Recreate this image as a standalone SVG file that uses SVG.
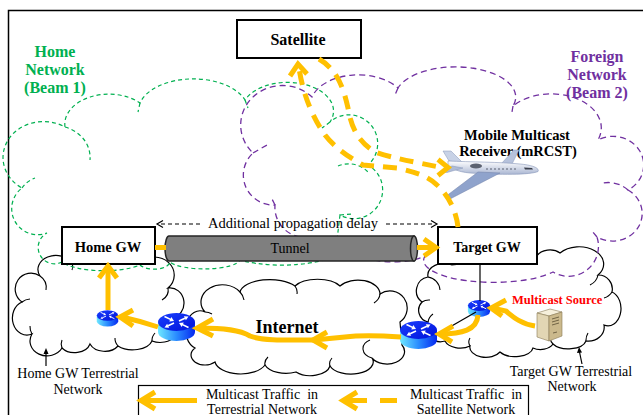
<svg xmlns="http://www.w3.org/2000/svg" xmlns:xlink="http://www.w3.org/1999/xlink" width="643" height="415" viewBox="0 0 643 415" font-family="'Liberation Serif', 'DejaVu Serif', serif">
  <style>
    text { font-family: "Liberation Serif", "DejaVu Serif", serif; }
    .t { fill: #000; }
    .b { font-weight: bold; }
    .mid { text-anchor: middle; }
    .pre { white-space: pre; }
    .cloud { fill: #fff; stroke: #000; stroke-width: 1.2; }
    .curl { fill: none; stroke: #000; stroke-width: 1.1; }
    .beam1 { fill: none; stroke: #00b050; stroke-width: 1.2; stroke-dasharray: 4 3; }
    .beam2 { fill: none; stroke: #7030a0; stroke-width: 1.3; stroke-dasharray: 6 4; }
    .box { fill: #fff; stroke: #000; stroke-width: 2; }
    .flow { fill: none; stroke: #ffc000; stroke-width: 5; stroke-linecap: butt; stroke-linejoin: miter; }
    .sat { fill: none; stroke: #ffc000; stroke-width: 5; stroke-dasharray: 14 9; }
    .head { fill: none; stroke: #ffc000; stroke-width: 5; stroke-linejoin: miter; stroke-miterlimit: 6; }
    .link { fill: none; stroke: #000; stroke-width: 1.2; }
    .delay { fill: none; stroke: #000; stroke-width: 1.2; stroke-dasharray: 4 3; }
  </style>
  <defs>
    <linearGradient id="rSide" x1="0" y1="0" x2="1" y2="0">
      <stop offset="0" stop-color="#6ee8ff"/>
      <stop offset="0.5" stop-color="#2a8cff"/>
      <stop offset="1" stop-color="#0628f0"/>
    </linearGradient>
    <linearGradient id="rTop" x1="0" y1="0" x2="1" y2="1">
      <stop offset="0" stop-color="#1a40ff"/>
      <stop offset="1" stop-color="#0010d8"/>
    </linearGradient>
    <linearGradient id="planeBody" x1="0" y1="0" x2="0" y2="1">
      <stop offset="0" stop-color="#ffffff"/>
      <stop offset="1" stop-color="#aab6d2"/>
    </linearGradient>
    <g id="routerShape">
      <path d="M -18.5,0 L -18.5,10 A 18.5 9 0 0 0 18.5,10 L 18.5,0 Z" fill="url(#rSide)"/>
      <ellipse cx="0" cy="0" rx="18.5" ry="9" fill="url(#rTop)"/>
      <g fill="#fff" stroke="#fff" stroke-width="1.6">
        <line x1="-12" y1="-5.5" x2="-5.5" y2="-2.4"/>
        <polygon stroke="none" points="-2.5,-1 -7.2,-0.6 -5.2,-4.9"/>
        <line x1="12" y1="5.5" x2="5.5" y2="2.4"/>
        <polygon stroke="none" points="2.5,1 7.2,0.6 5.2,4.9"/>
        <line x1="2.5" y1="-1" x2="8.4" y2="-3.8"/>
        <polygon stroke="none" points="12,-5.5 9.4,-1.7 7.4,-5.7"/>
        <line x1="-2.5" y1="1" x2="-8.4" y2="3.8"/>
        <polygon stroke="none" points="-12,5.5 -9.4,1.7 -7.4,5.7"/>
      </g>
    </g>
  </defs>

  <rect x="0" y="0" width="643" height="415" fill="#fff"/>
  <!-- outer frame -->
  <rect x="8.5" y="10.5" width="700" height="500" fill="none" stroke="#000" stroke-width="1.5"/>

  <!-- terrestrial clouds -->
  <g id="home-gw-terrestrial-network">
    <path class="cloud" d="M 22,302 A 14 14 0 0 1 40,276 A 18 14 0 0 1 72,263 A 40 14 0 0 1 140,262 A 18 16 0 0 1 168,288 A 12 13 0 0 1 172,318 A 18 14 0 0 1 152,341 A 20 12 0 0 1 118,346 A 16 12 0 0 1 90,344 A 16 12 0 0 1 62,348 A 16 14 0 0 1 32,334 A 12 14 0 0 1 22,302 Z"/>
    <path class="curl" d="M 40,276 A 14 14 0 0 1 46,290 M 22,302 A 14 14 0 0 1 30,299 M 32,334 A 14 14 0 0 1 30,326 M 62,348 A 14 12 0 0 1 62,340 M 118,346 A 14 12 0 0 1 115,338 M 152,341 A 14 12 0 0 1 155,333 M 168,288 A 14 12 0 0 1 162,300 M 72,263 A 12 10 0 0 1 72,270"/>
    <text class="t mid" x="78" y="378" font-size="14">Home GW Terrestrial</text>
    <text class="t mid" x="78" y="394" font-size="14">Network</text>
    <line class="link" x1="46" y1="366" x2="46" y2="353"/>
    <polygon points="46,348 43.5,354 48.5,354" fill="#000"/>
  </g>

  <g id="internet">
    <path class="cloud" d="M 195,348 A 12 16 0 0 1 205,312 A 20 16 0 0 1 240,292 A 30 14 0 0 1 295,286 A 25 12 0 0 1 340,286 A 22 14 0 0 1 380,294 A 14 14 0 0 1 400,322 L 402,345 A 14 10 0 0 1 372,358 A 22 12 0 0 1 330,366 A 20 12 0 0 1 296,372 A 22 12 0 0 1 265,365 A 26 14 0 0 1 215,362 A 14 10 0 0 1 195,348 Z"/>
    <path class="curl" d="M 240,292 A 20 16 0 0 1 244,300 M 295,286 A 20 14 0 0 1 297,294 M 380,294 A 22 14 0 0 1 374,303 M 205,312 A 16 16 0 0 1 212,314 M 330,366 A 20 12 0 0 1 332,358 M 265,365 A 20 12 0 0 1 268,357 M 372,358 A 14 10 0 0 1 370,340"/>
    <text class="t b mid" x="287" y="333" font-size="18">Internet</text>
  </g>

  <g id="target-gw-terrestrial-network">
    <path class="cloud" d="M 422,302 A 14 14 0 0 1 428,277 A 16 12 0 0 1 452,265 L 537,256 A 14 10 0 0 1 560,253 A 20 14 0 0 1 598,275 A 14 14 0 0 1 612,292 A 12 16 0 0 1 604,325 A 16 14 0 0 1 586,341 A 18 10 0 0 1 553,344 A 14 10 0 0 1 533,348 A 18 10 0 0 1 500,352 A 16 10 0 0 1 470,346 A 16 10 0 0 1 445,341 A 14 14 0 0 1 428,322 A 12 12 0 0 1 422,302 Z"/>
    <path class="curl" d="M 428,277 A 14 14 0 0 1 440,290 M 422,302 A 12 12 0 0 1 430,300 M 428,322 A 12 12 0 0 1 433,314 M 470,346 A 14 10 0 0 1 470,338 M 553,344 A 16 10 0 0 1 551,336 M 586,341 A 14 14 0 0 1 588,333 M 598,275 A 16 14 0 0 1 590,285 M 612,292 A 14 14 0 0 1 604,298"/>
    <text class="t mid" x="571" y="376" font-size="14">Target GW Terrestrial</text>
    <text class="t mid" x="572" y="391" font-size="14">Network</text>
    <line class="link" x1="582" y1="364" x2="579.5" y2="352"/>
    <polygon points="579,347 577,353 582,352.5" fill="#000"/>
  </g>

  <!-- satellite beams -->
  <g id="home-network-beam-1">
    <path class="beam1" d="M 62,262 A 16 16 0 0 1 47,233 A 26 26 0 0 1 22,188 A 36 32 0 0 1 65,127 A 44 30 0 0 1 140,103 A 55 32 0 0 1 245,100 A 45 28 0 0 1 330,122 A 26 26 0 0 1 368,165 A 27 27 0 0 1 340,215 L 337,240 A 60 18 0 0 1 240,260 A 36 10 0 0 1 170,262 A 16 8 0 0 1 140,265 A 45 14 0 0 1 62,262"/>
    <path class="beam1" d="M 65,127 A 36 32 0 0 1 90,160 M 22,188 A 26 26 0 0 1 35,178 M 140,103 L 138,112 M 245,100 L 248,108 M 330,122 L 322,128 M 338,166 A 27 27 0 0 1 368,172 M 340,215 L 352,214"/>
    <text class="b mid" x="55" y="57" font-size="16" fill="#00b050">Home</text>
    <text class="b mid" x="55" y="75" font-size="16" fill="#00b050">Network</text>
    <text class="b mid" x="55" y="93" font-size="16" fill="#00b050">(Beam 1)</text>
  </g>

  <g id="foreign-network-beam-2">
    <path class="beam2" d="M 300,237 A 30 30 0 0 1 275,205 A 30 30 0 0 1 253,153 A 36 34 0 0 1 312,97 A 48 30 0 0 1 398,88 A 60 30 0 0 1 513,106 A 50 34 0 0 1 598,140 A 30 28 0 0 1 628,190 A 28 26 0 0 1 597,237 A 30 30 0 0 1 553,272 A 70 22 0 0 1 425,256 A 45 20 0 0 1 350,236 A 30 20 0 0 1 300,237"/>
    <path class="beam2" d="M 253,153 L 267,145 M 275,205 L 272,199 M 398,88 L 395,95 M 513,106 L 512,112 M 628,190 A 28 26 0 0 0 603,183 M 597,237 L 592,231"/>
    <text class="b mid" x="597" y="62" font-size="16" fill="#7030a0">Foreign</text>
    <text class="b mid" x="597" y="80" font-size="16" fill="#7030a0">Network</text>
    <text class="b mid" x="597" y="98" font-size="16" fill="#7030a0">(Beam 2)</text>
  </g>

  <!-- tunnel between gateways -->
  <g id="tunnel">
    <path d="M 169,236 L 414,236 L 414,261 L 169,261 A 4 12.5 0 0 1 169,236 Z" fill="#7f7f7f" stroke="#262626" stroke-width="1.5"/>
    <ellipse cx="414" cy="248.5" rx="3.5" ry="12.5" fill="#8c8c8c" stroke="#262626" stroke-width="1.5"/>
    <text class="t mid" x="290" y="253" font-size="14">Tunnel</text>
  </g>

  <g id="propagation-delay">
    <text class="t mid" x="293" y="228" font-size="14.5">Additional propagation delay</text>
    <line class="delay" x1="200" y1="224" x2="159" y2="224"/>
    <polyline points="163,220.5 157,224 163,227.5" fill="none" stroke="#000" stroke-width="1.2"/>
    <line class="delay" x1="386" y1="224" x2="435" y2="224"/>
    <polyline points="431,220.5 437,224 431,227.5" fill="none" stroke="#000" stroke-width="1.2"/>
  </g>

  <!-- gateways and satellite -->
  <g id="satellite">
    <rect class="box" x="237" y="20" width="124" height="38"/>
    <text class="t b mid" x="298" y="45" font-size="16">Satellite</text>
  </g>
  <g id="home-gw">
    <rect class="box" x="62" y="227" width="93" height="37"/>
    <text class="t b mid" x="108" y="252" font-size="14.5">Home GW</text>
  </g>
  <g id="target-gw">
    <rect class="box" x="438" y="227" width="99" height="37"/>
    <text class="t b mid" x="487" y="252" font-size="14">Target GW</text>
  </g>

  <!-- mobile receiver -->
  <g id="mobile-receiver">
    <text class="t b mid" x="517" y="140" font-size="14.5">Mobile Multicast</text>
    <text class="t b mid" x="518" y="156" font-size="14.5">Receiver (mRCST)</text>
    <polygon points="500,165 514,150 519,150 511,166" fill="#b6c2dc" stroke="#8796b8" stroke-width="0.5"/>
    <polygon points="449,161 443,151 451,151 463,163" fill="#c8d2e6" stroke="#8796b8" stroke-width="0.5"/>
    <path d="M 448,161 C 470,162 500,162 520,164 C 532,165 540,168 538,171.5 C 530,175 500,175 470,173 C 458,172 450,168 448,165 Z" fill="url(#planeBody)" stroke="#8796b8" stroke-width="0.6"/>
    <polygon points="452,166 441,172 447,172.5 463,168" fill="#aebbd6" stroke="#8796b8" stroke-width="0.5"/>
    <polygon points="478,172 445,197 451,198.5 500,173" fill="#8fa3cc" stroke="#7080a8" stroke-width="0.5"/>
    <ellipse cx="476" cy="166" rx="6" ry="2.6" fill="#5c6270"/>
    <path d="M 524,167.5 L 532,168 L 533,169.5 L 525,169.5 Z" fill="#3a3f4c"/>
    <g fill="#4a5060">
      <circle cx="487" cy="169" r="0.8"/><circle cx="491" cy="169" r="0.8"/><circle cx="495" cy="169" r="0.8"/>
      <circle cx="499" cy="169" r="0.8"/><circle cx="503" cy="169" r="0.8"/><circle cx="507" cy="169" r="0.8"/>
      <circle cx="511" cy="169" r="0.8"/><circle cx="515" cy="169" r="0.8"/>
    </g>
  </g>

  <!-- routers -->
  <g id="router-home">
    <use xlink:href="#routerShape" href="#routerShape" transform="translate(107.5,315.5) scale(0.58)"/>
  </g>
  <g id="router-internet-west">
    <use xlink:href="#routerShape" href="#routerShape" transform="translate(176.5,322)"/>
  </g>
  <g id="router-internet-east">
    <use xlink:href="#routerShape" href="#routerShape" transform="translate(418.5,330)"/>
  </g>
  <g id="router-target">
    <use xlink:href="#routerShape" href="#routerShape" transform="translate(479,305.5) scale(0.6)"/>
  </g>

  <!-- multicast source server -->
  <g id="multicast-source">
    <text class="b" x="512" y="304" font-size="12.5" fill="#ff0000">Multicast Source</text>
    <polygon points="537,313 550,309 562,312 549,316" fill="#f6f0dc" stroke="#8a7a55" stroke-width="0.6"/>
    <polygon points="537,313 549,316 549,341 537,337" fill="#e2d6b4" stroke="#8a7a55" stroke-width="0.6"/>
    <polygon points="549,316 562,312 562,336 549,341" fill="#cbb98c" stroke="#8a7a55" stroke-width="0.6"/>
    <g stroke="#5a4e34" stroke-width="0.8">
      <line x1="552" y1="319" x2="559" y2="317"/>
      <line x1="552" y1="322" x2="559" y2="320"/>
      <line x1="552" y1="325" x2="559" y2="323"/>
      <line x1="553" y1="333" x2="557" y2="332"/>
    </g>
  </g>

  <!-- connectors -->
  <g id="connectors">
    <line class="link" x1="480" y1="264" x2="480" y2="301"/>
    <line class="link" x1="476" y1="312" x2="436" y2="335"/>

    <!-- terrestrial multicast traffic -->
    <path class="flow" d="M 535,326 C 522,324 514,318 506,311 L 492,308"/>
    <polyline class="head" points="506,300 491,308 502,316"/>
    <path class="flow" d="M 478,315 C 477,330 462,334 440,334"/>
    <polyline class="head" points="453,326 439,334 452,342"/>
    <path class="flow" d="M 401,337 C 385,336 362,335 345,337 L 314,340 C 290,340 262,341 250,336 C 240,330 225,328 199,328"/>
    <polyline class="head" points="327,332 313,340 327,348"/>
    <polyline class="head" points="213,319 197,328 213,336"/>
    <path class="flow" d="M 158,327 Q 140,321 122,317"/>
    <polyline class="head" points="133,310 120,317 133,326"/>
    <line class="flow" x1="108" y1="310" x2="108" y2="268"/>
    <polyline class="head" points="99,278 108,266 117,278"/>
    <line class="flow" x1="155" y1="247.5" x2="166" y2="247.5"/>
    <line class="flow" x1="417" y1="247.5" x2="434" y2="247.5"/>
    <polyline class="head" points="424,239 436,247.5 424,256"/>

    <!-- satellite multicast traffic -->
    <path class="sat" d="M 458,227 C 456,210 448,195 437,185 C 428,176 415,172 397,168 L 363,165 C 350,158 335,148 325,135 C 313,118 303,95 299,68"/>
    <polyline class="head" points="290,76 298,64 307,74"/>
    <path class="sat" d="M 319,59 C 338,70 344,90 348,108 C 351,125 356,140 375,152 C 392,158 415,162 444,168"/>
    <polyline class="head" points="438,159.5 448,167.5 438,175.5"/>
  </g>

  <!-- legend -->
  <g id="legend">
    <rect x="138.5" y="385.5" width="390" height="45" fill="#fff" stroke="#000" stroke-width="1.2"/>
    <line class="flow" x1="143" y1="400.5" x2="197" y2="400.5"/>
    <polyline class="head" points="155,392 141,400.5 155,409"/>
    <text class="t mid pre" x="262" y="399" font-size="14">Multicast Traffic  in</text>
    <text class="t mid" x="262" y="414" font-size="14">Terrestrial Network</text>
    <line class="flow" x1="344" y1="400.5" x2="367" y2="400.5"/>
    <line class="flow" x1="380" y1="400.5" x2="397" y2="400.5"/>
    <polyline class="head" points="357,392 343,400.5 357,409"/>
    <text class="t mid pre" x="466" y="399" font-size="14">Multicast Traffic  in</text>
    <text class="t mid" x="466" y="414" font-size="14">Satellite Network</text>
  </g>
</svg>
